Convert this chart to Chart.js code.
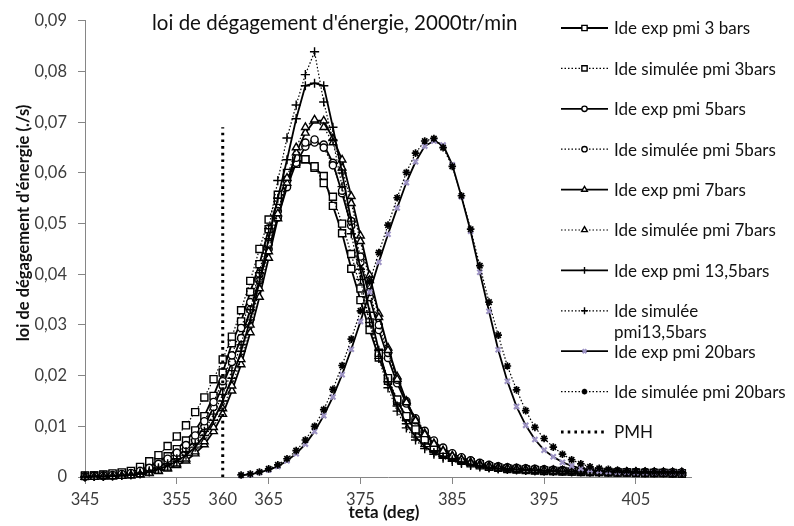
<!DOCTYPE html>
<html>
<head>
<meta charset="utf-8">
<script src="https://cdn.jsdelivr.net/npm/chart.js@4/dist/chart.umd.min.js"></script>
<style>
  html, body { margin: 0; padding: 0; background: #fff; }
  #wrap { position: relative; width: 794px; height: 526px; }
</style>
</head>
<body>
<div id="wrap"><canvas id="chart"></canvas></div>
<script>
/* ── data (teta in deg, loi in 1/s) ── */
const tetaA = [345,346,347,348,349,350,351,352,353,354,355,356,357,358,359,
  360,361,362,363,364,365,366,367,368,369,370,
  371,372,373,374,375,376,377,378,379,380,381,382,383,384,385,386,387,388,389,390,
  391,392,393,394,395,396,397,398,399,400,401,402,403,404,405,406,407,408,409,410];
const tetaB = [362,363,364,365,366,367,368,369,370,371,372,373,374,375,376,377,378,379,380,381,
  382,383,384,385,386,387,388,389,390,391,392,393,394,395,396,397,398,399,400,401,
  402,403,404,405,406,407,408,409,410];

const exp3 = [.0002,.0003,.0004,.0005,.0007,.0010,.0014,.0021,.0030,.0041,.0055,.0072,.0092,.0120,.0160,
  .0206,.0264,.0307,.0365,.0420,.0489,.0545,.0590,.0618,.0627,.0610,
  .0594,.0535,.0481,.0411,.0349,.0290,.0236,.0190,.0150,.0118,.0092,.0072,.0057,.0046,.0038,.0032,.0027,.0023,.0020,.0018,
  .0016,.0015,.0014,.0013,.0012,.0012,.0011,.0011,.0010,.0010,.0010,.0009,.0009,.0009,.0008,.0008,.0008,.0008,.0007,.0007];
const sim3 = [.0003,.0003,.0005,.0007,.0009,.0012,.0020,.0031,.0043,.0061,.0080,.0102,.0128,.0157,.0193,
  .0232,.0277,.0329,.0387,.0450,.0508,.0557,.0600,.0622,.0627,.0613,
  .0580,.0553,.0500,.0440,.0372,.0305,.0245,.0195,.0153,.0120,.0094,.0074,.0059,.0048,.0040,.0034,.0029,.0025,.0021,.0019,
  .0017,.0016,.0015,.0014,.0013,.0012,.0012,.0011,.0011,.0010,.0010,.0010,.0009,.0009,.0009,.0008,.0008,.0008,.0008,.0007];
const exp5 = [.0001,.0002,.0002,.0003,.0005,.0007,.0010,.0014,.0021,.0029,.0040,.0055,.0072,.0100,.0138,
  .0180,.0227,.0274,.0330,.0388,.0450,.0512,.0572,.0620,.0652,.0660,
  .0656,.0620,.0560,.0496,.0424,.0355,.0290,.0235,.0185,.0145,.0112,.0088,.0070,.0056,.0046,.0038,.0032,.0027,.0023,.0020,
  .0018,.0017,.0016,.0015,.0014,.0013,.0013,.0012,.0012,.0011,.0011,.0011,.0010,.0010,.0010,.0010,.0009,.0009,.0009,.0009];
const sim5 = [.0001,.0002,.0003,.0004,.0006,.0008,.0012,.0018,.0026,.0036,.0048,.0063,.0082,.0110,.0148,
  .0189,.0240,.0294,.0345,.0401,.0460,.0525,.0585,.0630,.0660,.0666,
  .0650,.0615,.0565,.0505,.0435,.0365,.0300,.0245,.0192,.0150,.0116,.0091,.0072,.0058,.0047,.0039,.0033,.0028,.0024,.0021,
  .0019,.0018,.0017,.0016,.0015,.0014,.0013,.0013,.0012,.0012,.0011,.0011,.0011,.0010,.0010,.0010,.0010,.0009,.0009,.0009];
const exp7 = [0,0,.0001,.0001,.0002,.0003,.0004,.0007,.0011,.0016,.0023,.0032,.0046,.0064,.0090,
  .0124,.0170,.0222,.0285,.0355,.0432,.0510,.0580,.0640,.0679,.0703,
  .0703,.0668,.0626,.0554,.0476,.0398,.0322,.0255,.0198,.0150,.0113,.0086,.0066,.0052,.0042,.0035,.0029,.0025,.0021,.0019,
  .0017,.0016,.0015,.0014,.0013,.0013,.0012,.0012,.0011,.0011,.0011,.0010,.0010,.0010,.0010,.0009,.0009,.0009,.0009,.0009];
const sim7 = [0,0,.0001,.0001,.0002,.0003,.0005,.0008,.0012,.0018,.0026,.0036,.0050,.0070,.0098,
  .0135,.0180,.0232,.0300,.0372,.0445,.0520,.0590,.0650,.0690,.0705,
  .0690,.0660,.0610,.0540,.0465,.0388,.0315,.0250,.0193,.0147,.0111,.0084,.0065,.0051,.0041,.0034,.0028,.0024,.0021,.0018,
  .0017,.0015,.0014,.0013,.0013,.0012,.0012,.0011,.0011,.0010,.0010,.0010,.0010,.0009,.0009,.0009,.0009,.0009,.0008,.0008];
const exp13 = [0,.0001,.0001,.0002,.0003,.0004,.0006,.0010,.0015,.0022,.0031,.0043,.0059,.0082,.0112,
  .0150,.0195,.0248,.0310,.0385,.0470,.0550,.0626,.0707,.0772,.0777,
  .0772,.0690,.0600,.0505,.0410,.0325,.0250,.0188,.0140,.0105,.0079,.0060,.0048,.0040,.0034,.0029,.0025,.0022,.0019,.0017,
  .0016,.0015,.0014,.0013,.0012,.0012,.0011,.0011,.0011,.0010,.0010,.0010,.0010,.0009,.0009,.0009,.0009,.0009,.0008,.0008];
const sim13 = [0,.0001,.0001,.0002,.0003,.0005,.0008,.0012,.0018,.0026,.0036,.0050,.0065,.0090,.0124,
  .0163,.0210,.0261,.0330,.0403,.0490,.0585,.0669,.0734,.0794,.0839,
  .0740,.0665,.0573,.0480,.0390,.0305,.0234,.0176,.0130,.0097,.0073,.0056,.0045,.0037,.0031,.0027,.0023,.0020,.0018,.0016,
  .0015,.0014,.0013,.0012,.0012,.0011,.0011,.0010,.0010,.0010,.0009,.0009,.0009,.0009,.0009,.0008,.0008,.0008,.0008,.0008];
const exp20 = [.0003,.0005,.0009,.0014,.0021,.0032,.0046,.0065,.0090,.0121,
  .0158,.0202,.0252,.0307,.0365,.0424,.0479,.0531,.0581,.0622,
  .0653,.0663,.0655,.0616,.0553,.0485,.0404,.0327,.0251,.0189,
  .0139,.0102,.0074,.0053,.0040,.0029,.0022,.0017,.0014,.0012,
  .0011,.0010,.0010,.0009,.0009,.0009,.0009,.0009,.0009];
const sim20 = [.0004,.0006,.0010,.0016,.0024,.0036,.0052,.0073,.0100,.0133,
  .0173,.0220,.0272,.0328,.0385,.0443,.0497,.0551,.0601,.0639,
  .0663,.0668,.0650,.0613,.0555,.0489,.0417,.0345,.0280,.0219,
  .0172,.0131,.0098,.0076,.0059,.0045,.0034,.0026,.0020,.0017,
  .0015,.0013,.0012,.0011,.0011,.0010,.0010,.0010,.0010];
const pmhTeta = [360, 360];
const pmhVal  = [0, 0.069];

const xTicks = [345, 355, 360, 365, 375, 385, 395, 405];
const yTicks = [0, 0.01, 0.02, 0.03, 0.04, 0.05, 0.06, 0.07, 0.08, 0.09];
const seriesNames = ['Ide exp pmi 3 bars', 'Ide simulée pmi 3bars', 'Ide exp pmi 5bars', 'Ide simulée pmi 5bars',
  'Ide exp pmi 7bars', 'Ide simulée pmi 7bars', 'Ide exp pmi 13,5bars', ['Ide simulée', 'pmi13,5bars'],
  'Ide exp pmi 20bars', 'Ide simulée pmi 20bars', 'PMH'];
const chartTitle = "loi de dégagement d'énergie, 2000tr/min";
const xTitle = 'teta (deg)';
const yTitle = "loi de dégagement d'énergie (./s)";

/* ── styles ── */
const FONT  = 'Lato, "Open Sans", sans-serif';
const AXIS  = '#868686';
const LAV   = '#9d93c4';
const DOT   = [1.5, 2];

const pts = (xs, ys) => ys.map((y, i) => ({ x: xs[i], y }));

function serie(label, xs, ys, dotted, mk) {
  return {
    label, data: pts(xs, ys), showLine: true, clip: false, tension: 0,
    borderColor: '#000', borderWidth: dotted ? 1.2 : 1.8, borderDash: dotted ? DOT : [],
    pointStyle: mk.style, pointRadius: mk.r, pointBorderWidth: mk.w,
    pointBorderColor: mk.color || '#000', pointBackgroundColor: mk.fill || '#fff',
    pointHoverRadius: mk.r,
  };
}

const MK = {
  sq:  { style: 'rect',     r: 5,   w: 1.4 },
  ci:  { style: 'circle',   r: 3.6, w: 1.4 },
  tr:  { style: 'triangle', r: 4.4, w: 1.4 },
  cr:  { style: 'cross',    r: 4.6, w: 1.4 },
  lav: { style: 'crossRot', r: 3.6, w: 2.2, color: LAV, fill: LAV },
  st:  { style: 'star',     r: 3.8, w: 1.7, color: '#000', fill: '#000' },
};

const datasets = [
  serie(seriesNames[0], tetaA, exp3,  false, MK.sq),
  serie(seriesNames[1], tetaA, sim3,  true,  MK.sq),
  serie(seriesNames[2], tetaA, exp5,  false, MK.ci),
  serie(seriesNames[3], tetaA, sim5,  true,  MK.ci),
  serie(seriesNames[4], tetaA, exp7,  false, MK.tr),
  serie(seriesNames[5], tetaA, sim7,  true,  MK.tr),
  serie(seriesNames[6], tetaA, exp13, false, MK.cr),
  serie('Ide simulée pmi13,5bars', tetaA, sim13, true, MK.cr),
  serie(seriesNames[8], tetaB, exp20, false, MK.lav),
  serie(seriesNames[9], tetaB, sim20, true,  MK.st),
  {
    label: 'PMH', data: pts(pmhTeta, pmhVal), showLine: true, clip: false,
    borderColor: '#000', borderWidth: 3, borderDash: [2.6, 4.1], pointRadius: 0,
  },
];
// later series drawn on top, like the spreadsheet
datasets.forEach((d, i) => { d.order = datasets.length - i; });

const legendStyle = [
  [false, MK.sq], [true, MK.sq], [false, MK.ci], [true, MK.ci], [false, MK.tr], [true, MK.tr],
  [false, MK.cr], [true, MK.cr], [false, MK.lav], [true, MK.st], ['pmh', null],
];

/* ── titles + legend drawn over the chart ── */
const decor = {
  id: 'decor',
  afterDraw(chart) {
    const ctx = chart.ctx;
    ctx.save();
    ctx.fillStyle = '#111';
    ctx.textAlign = 'left';
    ctx.textBaseline = 'alphabetic';
    ctx.font = `20.5px ${FONT}`;
    ctx.fillText(chartTitle, 152, 30);

    ctx.save();
    ctx.translate(24, 223);
    ctx.rotate(-Math.PI / 2);
    ctx.textAlign = 'center';
    ctx.textBaseline = 'middle';
    ctx.font = `bold 16.5px ${FONT}`;
    ctx.fillText(yTitle, 0, 0);
    ctx.restore();

    ctx.textAlign = 'center';
    ctx.textBaseline = 'middle';
    ctx.font = `bold 17px ${FONT}`;
    ctx.fillText(xTitle, 384, 513);

    // legend
    const x0 = 561, x1 = 608, tx = 614;
    ctx.font = `17px ${FONT}`;
    ctx.textAlign = 'left';
    seriesNames.forEach((name, i) => {
      const y = 28 + i * 40.4;
      const [kind, mk] = legendStyle[i];
      ctx.strokeStyle = '#000';
      ctx.beginPath();
      if (kind === 'pmh') { ctx.lineWidth = 3; ctx.setLineDash([2.6, 4.1]); }
      else if (kind) { ctx.lineWidth = 1.2; ctx.setLineDash(DOT); }
      else { ctx.lineWidth = 1.8; ctx.setLineDash([]); }
      ctx.moveTo(x0, y);
      ctx.lineTo(kind === 'pmh' ? 604 : x1, y);
      ctx.stroke();
      ctx.setLineDash([]);
      if (mk) {
        ctx.strokeStyle = mk.color || '#000';
        ctx.fillStyle = mk.fill || '#fff';
        ctx.lineWidth = mk.w;
        Chart.helpers.drawPoint(ctx, { pointStyle: mk.style, radius: mk.r * 0.75, borderWidth: mk.w, rotation: 0 },
          (x0 + x1) / 2, y);
      }
      ctx.fillStyle = '#111';
      const lines = Array.isArray(name) ? name : [name];
      lines.forEach((t, k) => ctx.fillText(t, tx, y + 1 + k * 21));
    });
    ctx.restore();
  }
};

const tickFont = { family: FONT, size: 16.5 };

new Chart(document.getElementById('chart'), {
  type: 'scatter',
  data: { datasets },
  options: {
    responsive: true,
    maintainAspectRatio: false,
    animation: false,
    events: [],
    layout: { padding: { left: 0, right: 103, top: 16, bottom: 0 } },
    plugins: { legend: { display: false }, tooltip: { enabled: false }, title: { display: false } },
    scales: {
      x: {
        type: 'linear', min: 345, max: 411,
        afterBuildTicks: s => { s.ticks = xTicks.map(v => ({ value: v })); },
        afterFit: s => { s.height = 49; },
        grid: {
          drawOnChartArea: false, drawTicks: true, tickLength: 7,
          color: c => (c.tick && c.tick.value === 360) ? 'rgba(0,0,0,0)' : AXIS,
        },
        border: { color: AXIS, width: 1 },
        ticks: { color: '#3c3c3c', font: tickFont, padding: 6, maxRotation: 0, autoSkip: false,
          callback: v => String(v) },
      },
      y: {
        min: 0, max: 0.09,
        afterBuildTicks: s => { s.ticks = yTicks.map(v => ({ value: v })); },
        afterFit: s => { s.width = 85; },
        grid: { drawOnChartArea: false, drawTicks: true, tickLength: 7, color: AXIS },
        border: { color: AXIS, width: 1 },
        ticks: { color: '#3c3c3c', font: tickFont, padding: 11,
          callback: v => v === 0 ? '0' : v.toFixed(2).replace('.', ',') },
      },
    },
  },
  plugins: [decor],
});
</script>
</body>
</html>
